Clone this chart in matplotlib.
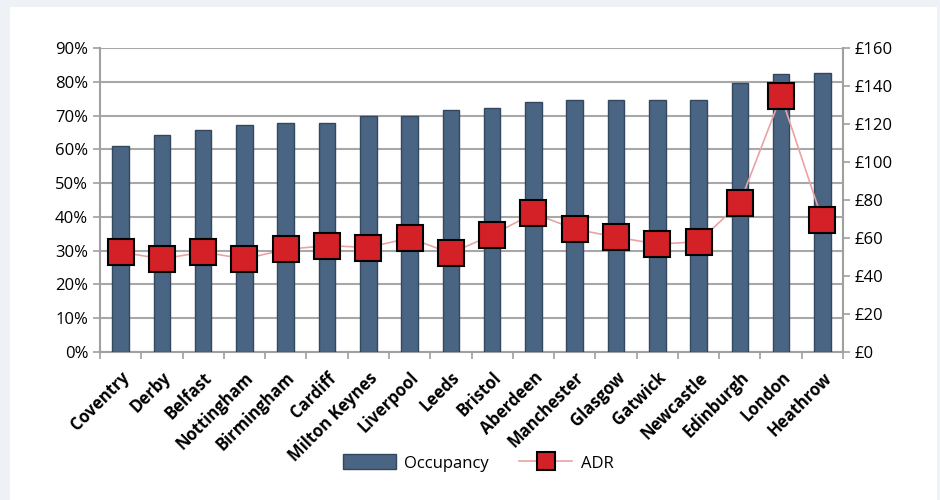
import matplotlib
matplotlib.use("Agg")
import matplotlib.pyplot as plt
import numpy as np
from matplotlib.patches import Rectangle
from matplotlib.ticker import FuncFormatter

cities = ["Coventry", "Derby", "Belfast", "Nottingham", "Birmingham", "Cardiff",
          "Milton Keynes", "Liverpool", "Leeds", "Bristol", "Aberdeen", "Manchester",
          "Glasgow", "Gatwick", "Newcastle", "Edinburgh", "London", "Heathrow"]
occupancy = [61, 64.2, 65.7, 67.2, 67.8, 67.8, 70, 70, 71.6, 72.2, 74, 74.6,
             74.6, 74.6, 74.6, 79.6, 82.2, 82.5]
adr = [52.6, 49, 52.6, 49, 54, 56, 55, 60, 52, 61.6, 73, 64.7,
       60.5, 56.8, 58, 78.4, 134.7, 69.5]

plt.rcParams["font.family"] = ["Open Sans", "DejaVu Sans"]

fig = plt.figure(figsize=(9.4, 5), dpi=100)
fig.patch.set_facecolor("#eef2f6")
fig.patches.append(Rectangle((10 / 940, 0), 927 / 940, 493 / 500,
                             transform=fig.transFigure, facecolor="white",
                             edgecolor="none", zorder=-10))

ax = fig.add_axes([100 / 940, 148 / 500, 743 / 940, 304 / 500])
ax.set_facecolor("none")
x = np.arange(len(cities))

ax.bar(x, occupancy, width=0.4, color="#4a6583", edgecolor="#33475e",
       linewidth=1.0, zorder=3, label="Occupancy")
ax.set_ylim(0, 90)
ax.set_xlim(-0.5, len(cities) - 0.5)
ax.set_yticks(np.arange(0, 91, 10))
ax.yaxis.set_major_formatter(FuncFormatter(lambda v, p: f"{v:.0f}%"))
ax.grid(axis="y", color="#a8a8a8", linewidth=1.5, zorder=1)

ax.set_xticks(np.arange(-0.5, len(cities), 1))
ax.set_xticklabels([])
ax.set_xticks(x, minor=True)
ax.set_xticklabels(cities, minor=True, rotation=45, ha="right",
                   rotation_mode="anchor", fontsize=12, fontweight="bold")
ax.tick_params(axis="x", which="minor", length=0, pad=12)
ax.tick_params(axis="x", which="major", length=5, color="#a0a0a0", width=1.2)
ax.tick_params(axis="y", length=5, color="#a0a0a0", width=1.2, labelsize=12)
for side in ["top", "right"]:
    ax.spines[side].set_visible(False)
for side in ["left", "bottom"]:
    ax.spines[side].set_color("#a0a0a0")
    ax.spines[side].set_linewidth(1.5)

ax2 = ax.twinx()
ax2.plot(x, adr, color="#e8a3a3", linewidth=1.2, marker="s", markersize=19,
         markerfacecolor="#d42027", markeredgecolor="black", markeredgewidth=1.5,
         zorder=4, label="ADR")
ax2.set_ylim(0, 160)
ax2.set_yticks(np.arange(0, 161, 20))
ax2.yaxis.set_major_formatter(FuncFormatter(lambda v, p: f"£{v:.0f}"))
ax2.tick_params(axis="y", length=5, color="#a0a0a0", width=1.2, labelsize=12)
for side in ["top", "left", "bottom"]:
    ax2.spines[side].set_visible(False)
ax2.spines["right"].set_color("#a0a0a0")
ax2.spines["right"].set_linewidth(1.5)

handles = ax.get_legend_handles_labels()[0] + ax2.get_legend_handles_labels()[0]
leg = fig.legend(handles, ["Occupancy", "ADR"], loc="center",
                 bbox_to_anchor=(478 / 940, 1 - 463 / 500), ncol=2, frameon=False,
                 fontsize=12, handlelength=3.2, handleheight=1.0, markerscale=0.7,
                 handletextpad=0.5, columnspacing=1.8)

fig.savefig("out.png", dpi=100)
